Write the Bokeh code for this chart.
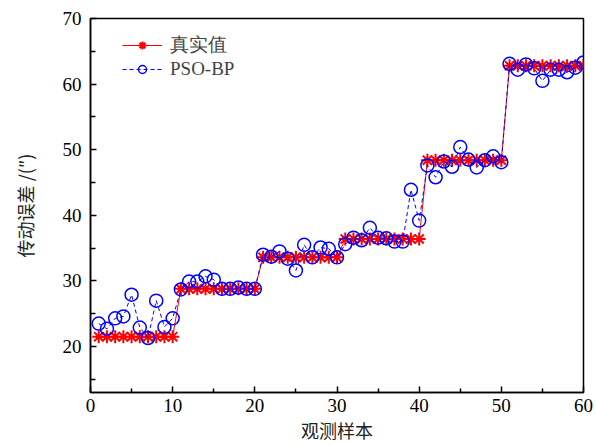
from bokeh.plotting import figure
from bokeh.models import Range1d, FixedTicker, Legend, LegendItem
from bokeh.embed import file_html
from bokeh.resources import INLINE

samples = list(range(1, 61))
real_values = [21.5]*10 + [28.8]*10 + [33.6]*10 + [36.4]*10 + [48.4]*10 + [62.8]*10
pso_bp = [23.5, 22.7, 24.3, 24.6, 27.9, 22.9, 21.3, 27.0, 23.0, 24.3,
          28.7, 29.9, 29.9, 30.7, 30.2, 28.8, 28.8, 29.0, 28.8, 28.8,
          34.0, 33.7, 34.5, 33.4, 31.6, 35.5, 33.6, 35.1, 34.9, 33.6,
          35.6, 36.6, 36.2, 38.1, 36.6, 36.5, 36.0, 36.0, 43.9, 39.2,
          47.6, 45.8, 48.2, 47.4, 50.4, 48.5, 47.3, 48.4, 49.0, 48.1,
          63.1, 62.2, 63.0, 62.4, 60.5, 62.2, 62.2, 61.8, 62.5, 63.3]
x_ticks = [0, 10, 20, 30, 40, 50, 60]
x_minor = [5, 15, 25, 35, 45, 55]
y_ticks = [20, 30, 40, 50, 60, 70]
y_minor = [15, 25, 35, 45, 55, 65]

p = figure(width=596, height=445, x_range=Range1d(0, 60), y_range=Range1d(13, 70),
           output_backend="svg", toolbar_location=None,
           min_border_left=90, min_border_right=13, min_border_top=18, min_border_bottom=53)
p.grid.visible = False
p.outline_line_color = "black"
p.outline_line_width = 1.5
p.background_fill_color = "white"
p.border_fill_color = "white"

r1 = p.line(samples, real_values, line_color="red", line_width=1)
r2 = p.scatter(samples, real_values, marker="asterisk", size=13, line_color="red", line_width=2)
r3 = p.line(samples, pso_bp, line_color="blue", line_width=1, line_dash="4 3")
r4 = p.scatter(samples, pso_bp, marker="circle", size=13, fill_color=None, line_color="blue", line_width=1.5)

for ax in (p.xaxis[0], p.yaxis[0]):
    ax.axis_line_width = 1.5
    ax.axis_line_color = "black"
    ax.major_tick_in = 6
    ax.major_tick_out = 0
    ax.minor_tick_in = 4
    ax.minor_tick_out = 0
    ax.major_tick_line_width = 1.5
    ax.minor_tick_line_width = 1.5
    ax.major_label_text_font = "Liberation Serif"
    ax.major_label_text_font_size = "19px"
    ax.major_label_text_color = "black"
    ax.axis_label_text_font = "Noto Sans CJK SC"
    ax.axis_label_text_font_size = "18px"
    ax.axis_label_text_font_style = "normal"
    ax.axis_label_text_color = "#222222"

p.xaxis.ticker = FixedTicker(ticks=x_ticks, minor_ticks=x_minor)
p.yaxis.ticker = FixedTicker(ticks=y_ticks, minor_ticks=y_minor)
p.yaxis.minor_tick_in = 5
p.xaxis.axis_label = "观测样本"
p.yaxis.axis_label = "传动误差 /(″)"
p.xaxis.major_label_standoff = 6
p.xaxis.axis_label_standoff = 2
p.yaxis.major_label_standoff = 9
p.yaxis.axis_label_standoff = 22

legend = Legend(items=[LegendItem(label="真实值", renderers=[r1, r2]),
                       LegendItem(label="PSO-BP", renderers=[r3, r4])],
                location=(32, 312), padding=0, margin=0, spacing=0,
                glyph_width=40, glyph_height=20, label_height=20, label_standoff=8,
                label_text_font="Liberation Serif", label_text_font_size="19px",
                border_line_color=None, background_fill_alpha=0)
p.add_layout(legend)

open("out.html", "w").write(file_html(p, INLINE))
